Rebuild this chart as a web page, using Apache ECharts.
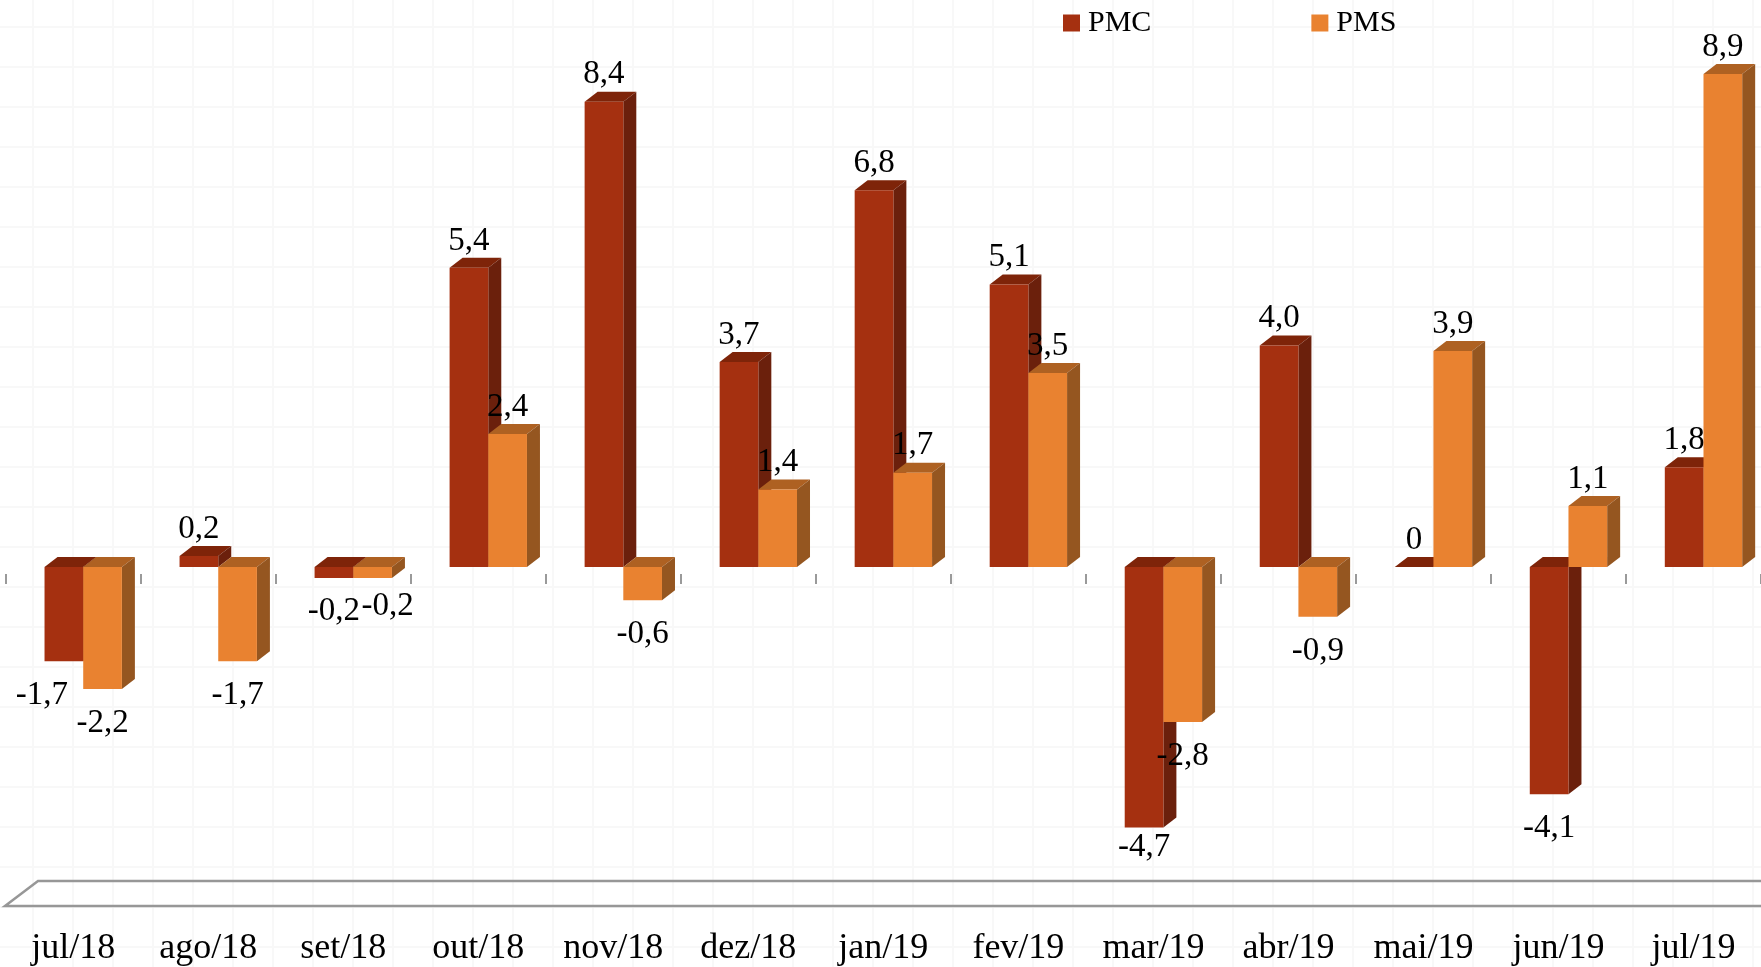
<!DOCTYPE html>
<html lang="pt">
<head>
<meta charset="utf-8">
<title>PMC e PMS</title>
<script src="https://cdn.jsdelivr.net/npm/echarts@6/dist/echarts.min.js"></script>
<style>
html,body{margin:0;padding:0;background:#fff}
#chart{width:1761px;height:967px;
background-color:#fff;
background-image:
 repeating-linear-gradient(to right,transparent 0,transparent 32px,#f8f8f8 32px,#f8f8f8 34px,transparent 34px,transparent 40px),
 repeating-linear-gradient(to bottom,transparent 0,transparent 26px,#f8f8f8 26px,#f8f8f8 28px,transparent 28px,transparent 40px);}
</style>
</head>
<body>
<div id="chart"></div>
<script>
const categories = ['jul/18','ago/18','set/18','out/18','nov/18','dez/18','jan/19','fev/19','mar/19','abr/19','mai/19','jun/19','jul/19'];
const pmcValues = [-1.7,0.2,-0.2,5.4,8.4,3.7,6.8,5.1,-4.7,4.0,0,-4.1,1.8];
const pmsValues = [-2.2,-1.7,-0.2,2.4,-0.6,1.4,1.7,3.5,-2.8,-0.9,3.9,1.1,8.9];

const fontFamily = '"Liberation Serif", serif';
const pmcFaces = {front:'#A53010', top:'#7E2409', side:'#6B200C'};
const pmsFaces = {front:'#E98230', top:'#AE6122', side:'#955620'};
// label exceptions seen in the reference: {category index: [dx, dy]}
const pmcLabelNudge = {0:[-22,0], 2:[0,-1], 8:[0,-14]};
const pmsLabelNudge = {2:[15,-6]};

const DEPTH_X = 13, DEPTH_Y = 10, SHIFT_X = 10, BAR_RATIO = 0.2865;

function fmt(v){
  if (v === 0) return '0';
  return v.toFixed(1).replace('.',',');
}

function barRenderer(faces, seriesPos, nudge){
  return function(params, api){
    const idx = api.value(0), val = api.value(1);
    const band = api.size([1,0])[0];
    const w = band * BAR_RATIO;
    const base = api.coord([idx, 0]);
    const end = api.coord([idx, val]);
    const x0 = base[0] + SHIFT_X + (seriesPos === 0 ? -w : 0);
    const x1 = x0 + w;
    const top = Math.min(base[1], end[1]);
    const bottom = Math.max(base[1], end[1]);
    const n = nudge[idx] || [0,0];
    const labelY = (val < 0 ? bottom + 34 : top - 27) + n[1];
    const children = [];
    children.push({type:'polygon',shape:{points:[[x0,top],[x0+DEPTH_X,top-DEPTH_Y],[x1+DEPTH_X,top-DEPTH_Y],[x1,top]]},style:{fill:faces.top}});
    if (bottom > top) {
      children.push({type:'polygon',shape:{points:[[x1,top],[x1+DEPTH_X,top-DEPTH_Y],[x1+DEPTH_X,bottom-DEPTH_Y],[x1,bottom]]},style:{fill:faces.side}});
      children.push({type:'rect',shape:{x:x0,y:top,width:w,height:bottom-top},style:{fill:faces.front}});
    }
    children.push({type:'text',z2:50,style:{
      text:fmt(val),x:(x0+x1)/2+n[0],y:labelY,
      align:'center',verticalAlign:'middle',
      font:'33px '+fontFamily,fill:'#000'}});
    return {type:'group',children};
  };
}

const chart = echarts.init(document.getElementById('chart'),null,{renderer:'canvas'});
chart.setOption({
  animation:false,
  legend:{
    left:1058,top:3,itemWidth:17,itemHeight:17,itemGap:160,icon:'rect',
    data:['PMC','PMS'],
    textStyle:{fontFamily,fontSize:30,color:'#000',padding:[0,0,0,3]}
  },
  grid:{left:5.7,width:1757.5,top:13,height:886.4,containLabel:false},
  xAxis:[
    {type:'category',data:categories,position:'bottom',
     axisLine:{show:false},axisTick:{show:false},splitLine:{show:false},
     axisLabel:{interval:0,margin:31,fontFamily,fontSize:36,color:'#000'}},
    {type:'category',data:categories,position:'top',offset:-571,
     axisLine:{show:false},axisLabel:{show:false},splitLine:{show:false},
     axisTick:{show:true,length:10,inside:false,lineStyle:{color:'#9a9a9a',width:2}}}
  ],
  yAxis:{type:'value',min:-6,max:10,show:false,splitLine:{show:false}},
  graphic:[{type:'polyline',silent:true,
    shape:{points:[[1765,881],[38,881],[5,906],[1765,906]]},
    style:{stroke:'#979797',lineWidth:2.5,fill:null}}],
  series:[
    {name:'PMC',type:'custom',xAxisIndex:0,itemStyle:{color:pmcFaces.front},
     renderItem:barRenderer(pmcFaces,0,pmcLabelNudge),
     data:categories.map((c,i)=>[i,pmcValues[i]]),encode:{x:0,y:1},clip:false,z:2},
    {name:'PMS',type:'custom',xAxisIndex:0,itemStyle:{color:pmsFaces.front},
     renderItem:barRenderer(pmsFaces,1,pmsLabelNudge),
     data:categories.map((c,i)=>[i,pmsValues[i]]),encode:{x:0,y:1},clip:false,z:3}
  ]
});
</script>
</body>
</html>
